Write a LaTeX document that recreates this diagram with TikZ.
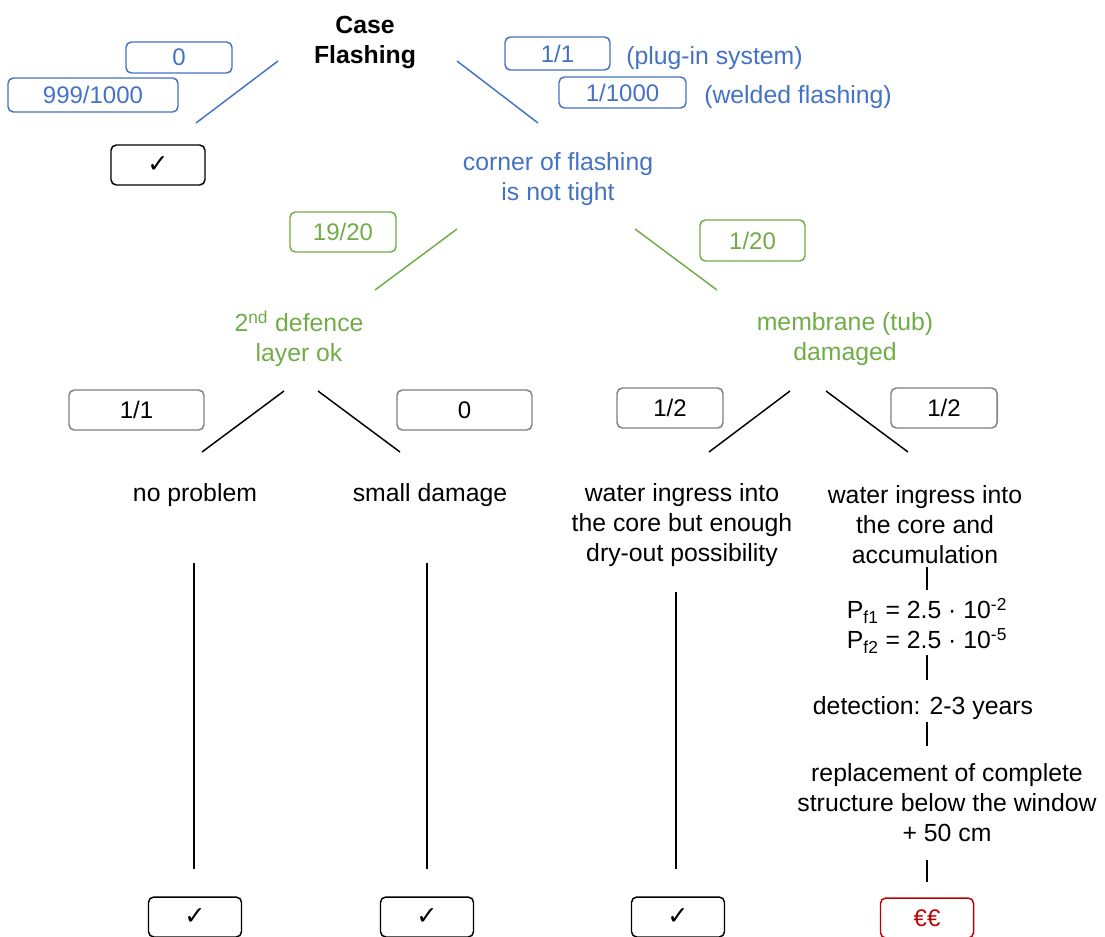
\documentclass[tikz,border=0pt]{standalone}
\usepackage{fontspec}
\setmainfont{Liberation Sans}
\newfontfamily\dejavu{DejaVu Sans}
\definecolor{cblue}{RGB}{68,114,196}
\definecolor{cgreen}{RGB}{112,173,71}
\definecolor{cgrey}{RGB}{128,128,128}
\definecolor{cred}{RGB}{192,0,0}
\begin{document}
\begin{tikzpicture}[x=0.75pt,y=-0.75pt,
  txt/.style={align=center, inner sep=0pt, yshift=-2.2pt, font=\fontsize{18.6}{22.5}\selectfont},
  box/.style={draw, rounded corners=4pt, line width=1.1pt, inner sep=0pt, font=\fontsize{18}{22.5}\selectfont},
  bbox/.style={box, draw=cblue, text=cblue},
  gbox/.style={box, draw=cgreen, text=cgreen},
  kbox/.style={box, draw=cgrey, text=black},
  okbox/.style={box, draw=black, minimum width=69.75pt, minimum height=30pt},
  bline/.style={draw=cblue, line width=1.1pt},
  gline/.style={draw=cgreen, line width=1.1pt},
  kline/.style={draw=black, line width=1.1pt}]
\useasboundingbox (0,0) rectangle (1105,936);

% top level
\node[txt, font=\fontsize{18.6}{22.5}\selectfont\bfseries] (case) at (365,40) {Case\\Flashing};
\node[bbox, minimum width=79.5pt, minimum height=23.25pt] (p0) at (179,57.5) {0};
\node[bbox, minimum width=127.5pt, minimum height=25.5pt] (p999) at (93,95) {999/1000};
\node[okbox, minimum width=70.5pt] (ok0) at (158,165) {\dejavu\fontsize{19}{22}\selectfont ✓};
\node[bbox, minimum width=78.75pt, minimum height=24.75pt] (p11) at (557.5,53.5) {1/1};
\node[txt, text=cblue, anchor=west] (plug) at (626,55) {(plug-in system)};
\node[bbox, minimum width=95.25pt, minimum height=23.25pt] (p1000) at (622.5,92.5) {1/1000};
\node[txt, text=cblue, anchor=west] (weld) at (704,94) {(welded flashing)};
\node[txt, text=cblue] (corner) at (558,176) {corner of flashing\\is not tight};

\coordinate (l1a) at (278,61); \coordinate (l1b) at (196,123);
\coordinate (l2a) at (457,61); \coordinate (l2b) at (538,123);
\draw[bline] (l1a) -- (l1b);
\draw[bline] (l2a) -- (l2b);

% second level
\node[gbox, minimum width=79.5pt, minimum height=30pt] (p1920) at (343,232) {19/20};
\node[gbox, minimum width=78.75pt, minimum height=30.75pt] (p120) at (752.5,240.5) {1/20};
\node[txt, text=cgreen] (second) at (299,336) {2\textsuperscript{nd} defence\\layer ok};
\node[txt, text=cgreen] (membr) at (845,336) {membrane (tub)\\damaged};
\coordinate (l3a) at (457,229); \coordinate (l3b) at (375,290);
\coordinate (l4a) at (635,229); \coordinate (l4b) at (717,290);
\draw[gline] (l3a) -- (l3b);
\draw[gline] (l4a) -- (l4b);

% third level
\node[kbox, minimum width=101.25pt, minimum height=30pt] (q11) at (136.5,410) {1/1};
\node[kbox, minimum width=101.25pt, minimum height=30pt] (q0) at (464.5,410) {0};
\node[kbox, minimum width=79.5pt, minimum height=30pt] (q12a) at (670,408) {1/2};
\node[kbox, minimum width=79.5pt, minimum height=30pt] (q12b) at (944,408) {1/2};
\coordinate (l5a) at (284,391); \coordinate (l5b) at (202,452);
\coordinate (l6a) at (318,391); \coordinate (l6b) at (400,452);
\coordinate (l7a) at (790,391); \coordinate (l7b) at (709,452);
\coordinate (l8a) at (826,391); \coordinate (l8b) at (908,452);
\draw[kline] (l5a) -- (l5b);
\draw[kline] (l6a) -- (l6b);
\draw[kline] (l7a) -- (l7b);
\draw[kline] (l8a) -- (l8b);

\node[txt] (noprob) at (195,492) {no problem};
\node[txt] (small) at (430,492) {small damage};
\node[txt] (dry) at (682,522) {water ingress into\\the core but enough\\dry-out possibility};
\node[txt] (accum) at (925,522) {water ingress into\\the core and\\accumulation};
\node[txt] (pf) at (927,623) {P\textsubscript{f1} = 2.5 · 10\textsuperscript{-2}\\P\textsubscript{f2} = 2.5 · 10\textsuperscript{-5}};
\node[txt] (detect) at (923,705) {detection: 2-3 years};
\node[txt] (repl) at (947,800) {replacement of complete\\structure below the window\\+ 50 cm};

% bottom boxes
\node[okbox] (ok1) at (195,917) {\dejavu\fontsize{19}{22}\selectfont ✓};
\node[okbox] (ok2) at (427,917) {\dejavu\fontsize{19}{22}\selectfont ✓};
\node[okbox] (ok3) at (678,917) {\dejavu\fontsize{19}{22}\selectfont ✓};
\node[okbox, draw=cred, text=cred] (cost) at (927,918) {€€};

% vertical connectors
\coordinate (v1a) at (194,563); \coordinate (v1b) at (194,869);
\coordinate (v2a) at (427,563); \coordinate (v2b) at (427,869);
\coordinate (v3a) at (676,592); \coordinate (v3b) at (676,869);
\coordinate (v4a) at (927,567); \coordinate (v4b) at (927,590);
\coordinate (v5a) at (927,655); \coordinate (v5b) at (927,680);
\coordinate (v6a) at (927,722); \coordinate (v6b) at (927,746);
\coordinate (v7a) at (927,860); \coordinate (v7b) at (927,882);
\draw[kline] (v1a) -- (v1b);
\draw[kline] (v2a) -- (v2b);
\draw[kline] (v3a) -- (v3b);
\draw[kline] (v4a) -- (v4b);
\draw[kline] (v5a) -- (v5b);
\draw[kline] (v6a) -- (v6b);
\draw[kline] (v7a) -- (v7b);
\end{tikzpicture}
\end{document}
